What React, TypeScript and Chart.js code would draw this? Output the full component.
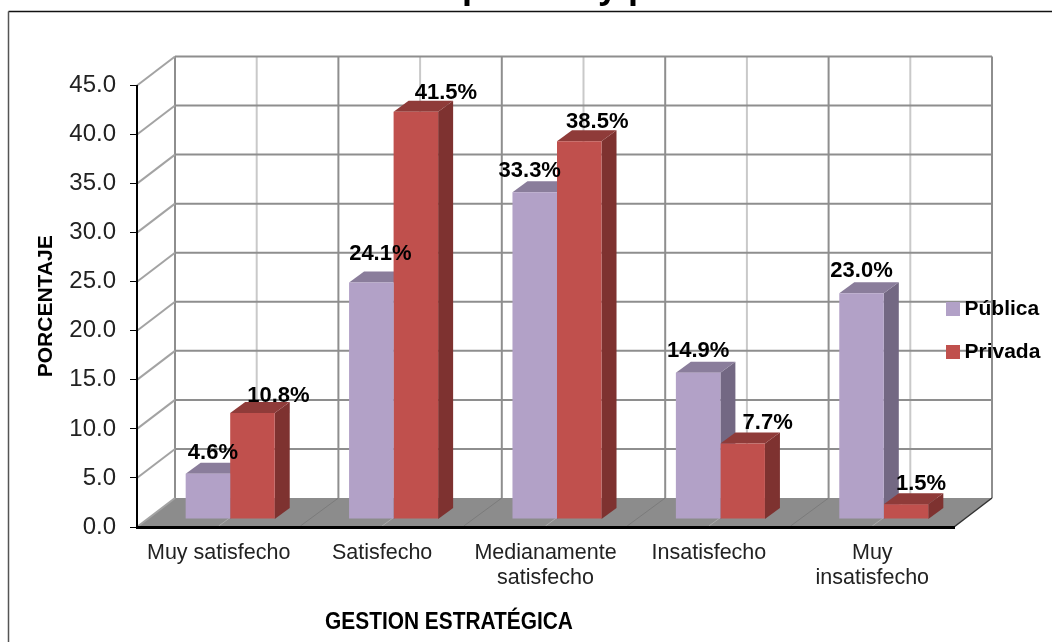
import React, { useEffect, useRef } from "react";
import { Chart, registerables } from "chart.js";

Chart.register(...registerables);

const categories = [
  "Muy satisfecho",
  "Satisfecho",
  ["Medianamente", "satisfecho"],
  "Insatisfecho",
  ["Muy", "insatisfecho"],
];
const publica = [4.6, 24.1, 33.3, 14.9, 23.0];
const privada = [10.8, 41.5, 38.5, 7.7, 1.5];
const seriesNames = ["Pública", "Privada"];
const axisTitleY = "PORCENTAJE";
const axisTitleX = "GESTION ESTRATÉGICA";
const clippedTitle = "pública y privada";

// label nudges relative to each bar's top centre
const nudgePublica = [[5, -21], [9, -29], [-5, -21], [0, -22], [0, -22]];
const nudgePrivada = [[26, -17], [30, -19], [18, -19], [25, -21], [15, -20]];

const WALL = { dx: 38, dy: -29 };
const BAR_PLANE = { dx: 11.5, dy: -8 };
const BAR_DEPTH = { dx: 15, dy: -11 };
const DARK_GRID = "#8e8e8e";
const LIGHT_GRID = "#c9c9c9";
const SIDE_GRID = "#a3a3a3";
const FLOOR = "#8c8c8c";
const SANS = "'Liberation Sans', Arial, sans-serif";

const FRONTS = ["#b2a1c7", "#c0504d"];
const TOPS = ["#8a7d9b", "#8f3b39"];
const SIDES = ["#736883", "#7e3230"];

function line(ctx: any, x1: number, y1: number, x2: number, y2: number, color: string, w: number) {
  ctx.beginPath();
  ctx.moveTo(x1, y1);
  ctx.lineTo(x2, y2);
  ctx.strokeStyle = color;
  ctx.lineWidth = w;
  ctx.stroke();
}

function poly(ctx: any, pts: number[][], color: string) {
  ctx.beginPath();
  pts.forEach((p, i) => (i ? ctx.lineTo(p[0], p[1]) : ctx.moveTo(p[0], p[1])));
  ctx.closePath();
  ctx.fillStyle = color;
  ctx.fill();
}

const wallPlugin = {
  id: "wall3d",
  beforeDraw(chart: any) {
    const { ctx, scales, chartArea } = chart;
    const { x: sx, y: sy } = scales;
    const L = chartArea.left;
    const R = chartArea.right;
    const base = sy.getPixelForValue(0);
    const leg = chart.legend;
    if (leg) {
      const w = leg.width;
      const h = leg.height;
      leg.left = 930;
      leg.right = 930 + w;
      leg.top = 276.5;
      leg.bottom = 276.5 + h;
    }
    ctx.save();
    ctx.fillStyle = "#ffffff";
    ctx.fillRect(0, 0, chart.width, chart.height);

    // frame and the title clipped at the image's top edge
    ctx.fillStyle = "#000";
    ctx.font = `bold 36px ${SANS}`;
    ctx.textAlign = "left";
    ctx.textBaseline = "alphabetic";
    ctx.fillText(clippedTitle, 462, -2);
    line(ctx, 8.5, 11.5, chart.width, 11.5, "#111", 1.5);
    line(ctx, 8.5, 11.5, 8.5, chart.height, "#555", 1.5);

    // floor
    poly(ctx, [[L, base], [R, base], [R + WALL.dx, base + WALL.dy], [L + WALL.dx, base + WALL.dy]], FLOOR);

    // floor and wall verticals (category edges dark, centres light)
    const n = categories.length;
    const topWall = sy.getPixelForValue(sy.max) + WALL.dy;
    const baseWall = base + WALL.dy;
    const band = (R - L) / n;
    for (let i = 0; i <= 2 * n; i++) {
      const fx = L + (i * band) / 2;
      const edge = i % 2 === 0;
      if (i > 0 && i < 2 * n) {
        line(ctx, fx, base - 1, fx + WALL.dx, baseWall, edge ? "#7b7b7b" : "#a9a9a9", 1);
      }
      line(ctx, fx + WALL.dx, topWall, fx + WALL.dx, baseWall, edge ? DARK_GRID : LIGHT_GRID, 2);
    }
    // horizontals and left wall diagonals
    sy.ticks.forEach((t: any) => {
      const y = sy.getPixelForValue(t.value);
      line(ctx, L, y, L + WALL.dx, y + WALL.dy, SIDE_GRID, 2);
      if (t.value > 0) line(ctx, L + WALL.dx, y + WALL.dy, R + WALL.dx, y + WALL.dy, DARK_GRID, 2);
    });
    line(ctx, R, base, R + WALL.dx, baseWall, "#333", 1.5);
    ctx.restore();
  },
  beforeDatasetsDraw(chart: any) {
    const { ctx, scales } = chart;
    const base = scales.y.getPixelForValue(0) + BAR_PLANE.dy;
    // 3D faces: first all tops and sides, then the library's bars over them
    ctx.save();
    chart.data.datasets.forEach((_: any, d: number) => {
      chart.getDatasetMeta(d).data.forEach((bar: any) => {
        const p = bar.getProps(["x", "y", "width"], true);
        const l = p.x - p.width / 2 + BAR_PLANE.dx;
        const r = p.x + p.width / 2 + BAR_PLANE.dx;
        const t = p.y + BAR_PLANE.dy;
        const { dx, dy } = BAR_DEPTH;
        poly(ctx, [[r, t], [r + dx, t + dy], [r + dx, base + dy], [r, base]], SIDES[d]);
        poly(ctx, [[l, t], [r, t], [r + dx, t + dy], [l + dx, t + dy]], TOPS[d]);
      });
    });
    ctx.restore();
    ctx.save();
    ctx.translate(BAR_PLANE.dx, BAR_PLANE.dy);
  },
  afterDatasetsDraw(chart: any) {
    chart.ctx.restore();
  },
  afterDraw(chart: any) {
    const { ctx } = chart;
    ctx.save();
    ctx.fillStyle = "#000";
    ctx.textAlign = "center";
    ctx.textBaseline = "middle";
    ctx.font = `bold 22px ${SANS}`;
    chart.data.datasets.forEach((ds: any, d: number) => {
      const nudges = d === 0 ? nudgePublica : nudgePrivada;
      chart.getDatasetMeta(d).data.forEach((bar: any, i: number) => {
        const p = bar.getProps(["x", "y"], true);
        ctx.fillText(
          `${ds.data[i].toFixed(1)}%`,
          p.x + BAR_PLANE.dx + nudges[i][0],
          p.y + BAR_PLANE.dy + nudges[i][1]
        );
      });
    });
    ctx.translate(449, 622);
    ctx.scale(0.87, 1);
    ctx.font = `bold 24px ${SANS}`;
    ctx.fillText(axisTitleX, 0, 0);
    ctx.restore();
  },
};

function swatch(color: string) {
  const c = document.createElement("canvas");
  c.width = 14;
  c.height = 14;
  const g = c.getContext("2d")!;
  g.fillStyle = color;
  g.fillRect(0, 0, 14, 14);
  return c;
}

export default function App() {
  const ref = useRef<HTMLCanvasElement>(null);
  useEffect(() => {
    const icons = FRONTS.map(swatch);
    const chart = new Chart(ref.current!, {
      type: "bar",
      data: {
        labels: categories as any,
        datasets: [
          { label: seriesNames[0], data: publica, backgroundColor: FRONTS[0] },
          { label: seriesNames[1], data: privada, backgroundColor: FRONTS[1] },
        ],
      },
      plugins: [wallPlugin],
      options: {
        responsive: false,
        animation: false,
        layout: { padding: { left: 0, top: 85.5, right: 98, bottom: 0 } },
        datasets: { bar: { barPercentage: 1, categoryPercentage: 0.545, clip: false as any } },
        plugins: {
          title: { display: false },
          tooltip: { enabled: false },
          legend: {
            position: "chartArea",
            align: "start",
            labels: {
              usePointStyle: true,
              pointStyleWidth: 2,
              boxHeight: 14,
              padding: 22,
              color: "#000",
              font: { family: SANS, size: 21, weight: "bold" },
              generateLabels: (c: any) =>
                Chart.defaults.plugins.legend.labels
                  .generateLabels(c)
                  .map((l: any, i: number) => ({ ...l, pointStyle: icons[i] })),
            },
          } as any,
        },
        scales: {
          x: {
            afterFit: (s: any) => {
              s.height = 115;
            },
            grid: { display: false, drawTicks: false },
            border: { display: true, color: "#000", width: 3 },
            ticks: {
              color: "#222",
              padding: 14,
              maxRotation: 0,
              autoSkip: false,
              font: { family: SANS, size: 21.5, lineHeight: 1.16 },
            },
          },
          y: {
            min: 0,
            max: 45,
            afterFit: (s: any) => {
              s.width = 137;
            },
            grid: { drawOnChartArea: false, drawTicks: true, tickLength: 7, tickColor: "#000" },
            border: { display: true, color: "#000", width: 2 },
            title: {
              display: true,
              text: axisTitleY,
              color: "#000",
              padding: { top: 33.5, bottom: 0 },
              font: { family: SANS, size: 21, weight: "bold" },
            },
            ticks: {
              stepSize: 5,
              color: "#222",
              padding: 14,
              font: { family: SANS, size: 24 },
              callback: (v: any) => Number(v).toFixed(1),
            },
          },
        },
      } as any,
    });
    return () => chart.destroy();
  }, []);
  return (
    <canvas
      ref={ref}
      width={1052}
      height={642}
      style={{ position: "fixed", left: 0, top: 0, display: "block" }}
    />
  );
}
